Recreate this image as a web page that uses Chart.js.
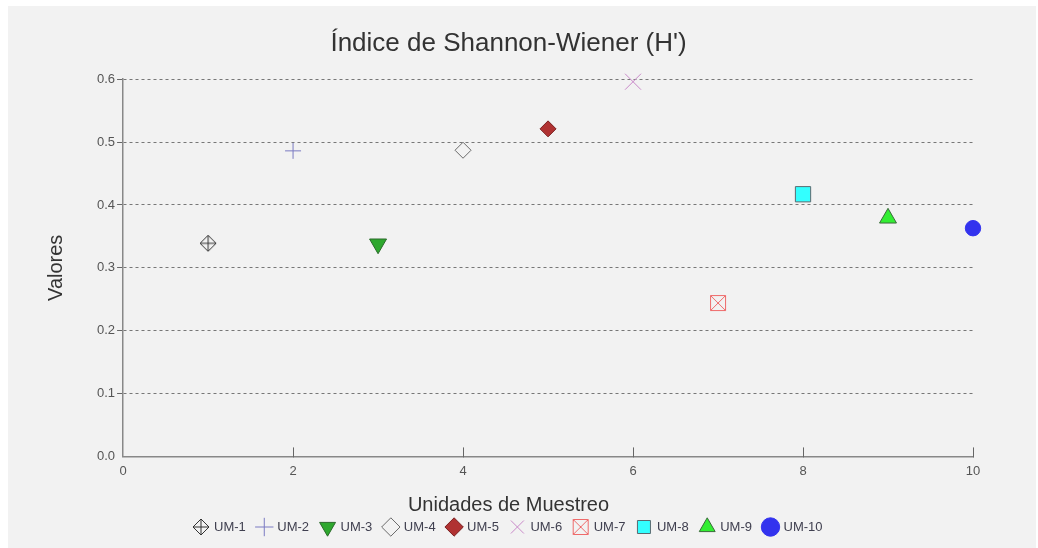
<!DOCTYPE html>
<html lang="es">
<head>
    <meta charset="UTF-8">
    <title>Índice de Shannon-Wiener (H')</title>
    <script src="https://cdn.jsdelivr.net/npm/chart.js@4.4.1/dist/chart.umd.min.js"></script>
    <style>
        body { margin: 0; background: #ffffff; font-family: "Liberation Sans", Arial, sans-serif; }
        #wrap { position: absolute; left: 8px; top: 6px; width: 1028px; height: 542px; background: #f2f2f2; }
        canvas { display: block; }
    </style>
</head>
<body>
    <div id="wrap">
        <canvas id="chart" width="994" height="542"></canvas>
    </div>

    <script>
        // datos
        const unidades = ['UM-1', 'UM-2', 'UM-3', 'UM-4', 'UM-5', 'UM-6', 'UM-7', 'UM-8', 'UM-9', 'UM-10'];
        const posicionX = [1, 2, 3, 4, 5, 6, 7, 8, 9, 10];
        const valoresH = [0.339, 0.486, 0.338, 0.487, 0.521, 0.596, 0.244, 0.417, 0.379, 0.363];
        const ticksX = [0, 2, 4, 6, 8, 10];
        const ticksY = [0, 0.1, 0.2, 0.3, 0.4, 0.5, 0.6];

        // marcadores compuestos dibujados a mano
        function marcador(tipo, color) {
            const c = document.createElement('canvas');
            c.width = 18; c.height = 18;
            const g = c.getContext('2d');
            g.strokeStyle = color;
            g.lineWidth = 1;
            g.beginPath();
            if (tipo === 'rombo+') {
                g.moveTo(9, 1); g.lineTo(17, 9); g.lineTo(9, 17); g.lineTo(1, 9); g.closePath();
                g.moveTo(9, 1); g.lineTo(9, 17);
                g.moveTo(1, 9); g.lineTo(17, 9);
            } else {
                g.rect(1.5, 1.5, 15, 15);
                g.moveTo(1.5, 1.5); g.lineTo(16.5, 16.5);
                g.moveTo(16.5, 1.5); g.lineTo(1.5, 16.5);
            }
            g.stroke();
            return c;
        }

        const estilos = [
            { pointStyle: marcador('rombo+', '#333'), radius: 9, bg: 'transparent', border: '#333' },
            { pointStyle: 'cross', radius: 8, bg: 'transparent', border: '#7b7bc2' },
            { pointStyle: 'triangle', radius: 9.8, rotation: 180, bg: '#2ea82e', border: '#2a6a2a' },
            { pointStyle: 'rectRot', radius: 8, bg: 'transparent', border: '#6a6a6a' },
            { pointStyle: 'rectRot', radius: 8, bg: '#b03232', border: '#7a2020' },
            { pointStyle: 'crossRot', radius: 11.3, bg: 'transparent', border: '#c888c8' },
            { pointStyle: marcador('cuadroX', '#ee6a6a'), radius: 9, bg: 'transparent', border: '#ee6a6a' },
            { pointStyle: 'rect', radius: 10.8, bg: '#33ffff', border: '#5a6a70' },
            { pointStyle: 'triangle', radius: 9.8, bg: '#33ee33', border: '#3a6a3a' },
            { pointStyle: 'circle', radius: 7.7, bg: '#3333ee', border: '#3333ee' }
        ];

        const datasets = unidades.map((nombre, i) => ({
            label: nombre,
            data: [{ x: posicionX[i], y: valoresH[i] }],
            pointStyle: estilos[i].pointStyle,
            pointRadius: estilos[i].radius,
            pointRotation: estilos[i].rotation || 0,
            backgroundColor: estilos[i].bg,
            borderColor: estilos[i].border,
            borderWidth: 1,
            showLine: false,
            clip: false
        }));

        // marcas del eje X hacia dentro del área
        const marcasX = {
            id: 'marcasX',
            afterDraw(chart) {
                const sx = chart.scales.x;
                const ctx = chart.ctx;
                const bottom = chart.chartArea.bottom;
                ctx.save();
                ctx.strokeStyle = '#666';
                ctx.lineWidth = 1;
                ticksX.forEach(v => {
                    if (v === 0) return;
                    const px = Math.round(sx.getPixelForValue(v)) + 0.5;
                    ctx.beginPath();
                    ctx.moveTo(px, bottom - 9);
                    ctx.lineTo(px, bottom + 1);
                    ctx.stroke();
                });
                ctx.restore();
            }
        };

        new Chart(document.getElementById('chart'), {
            type: 'scatter',
            data: { datasets: datasets },
            plugins: [marcasX],
            options: {
                responsive: false,
                animation: false,
                layout: { padding: { left: 36, right: 29, top: 0, bottom: 4.5 } },
                plugins: {
                    title: {
                        display: true,
                        text: "Índice de Shannon-Wiener (H')",
                        color: '#333',
                        font: { family: 'Liberation Sans', size: 26, weight: 'normal' },
                        padding: { top: 22, bottom: 20 }
                    },
                    subtitle: {
                        display: true,
                        text: 'Unidades de Muestreo',
                        position: 'bottom',
                        weight: 500,
                        color: '#333',
                        font: { family: 'Liberation Sans', size: 20, weight: 'normal' },
                        padding: { top: 7, bottom: -8.5 }
                    },
                    legend: {
                        position: 'bottom',
                        labels: {
                            usePointStyle: true,
                            boxHeight: 13,
                            padding: 12,
                            color: '#404050',
                            font: { family: 'Liberation Sans', size: 13 }
                        }
                    },
                    tooltip: { enabled: false }
                },
                scales: {
                    x: {
                        type: 'linear',
                        min: 0,
                        max: 10,
                        afterBuildTicks: axis => { axis.ticks = ticksX.map(v => ({ value: v })); },
                        grid: { display: false, drawTicks: false },
                        border: { color: '#888', width: 1.5 },
                        ticks: { color: '#555', padding: 7, font: { family: 'Liberation Sans', size: 13 } }
                    },
                    y: {
                        min: 0,
                        max: 0.6,
                        afterBuildTicks: axis => { axis.ticks = ticksY.map(v => ({ value: v })); },
                        grid: {
                            color: c => (c.tick && c.tick.value === 0 ? 'transparent' : '#777'),
                            tickColor: c => (c.tick && c.tick.value === 0 ? 'transparent' : '#666'),
                            tickLength: 6,
                            lineWidth: 1
                        },
                        border: { color: '#888', width: 1.5, dash: [3, 3] },
                        title: {
                            display: true,
                            text: 'Valores',
                            color: '#333',
                            font: { family: 'Liberation Sans', size: 20, weight: 'normal' },
                            padding: { top: 0, bottom: 27 }
                        },
                        ticks: {
                            color: '#555',
                            padding: 2,
                            font: { family: 'Liberation Sans', size: 13 },
                            callback: v => v.toFixed(1)
                        }
                    }
                }
            }
        });
    </script>
</body>
</html>
